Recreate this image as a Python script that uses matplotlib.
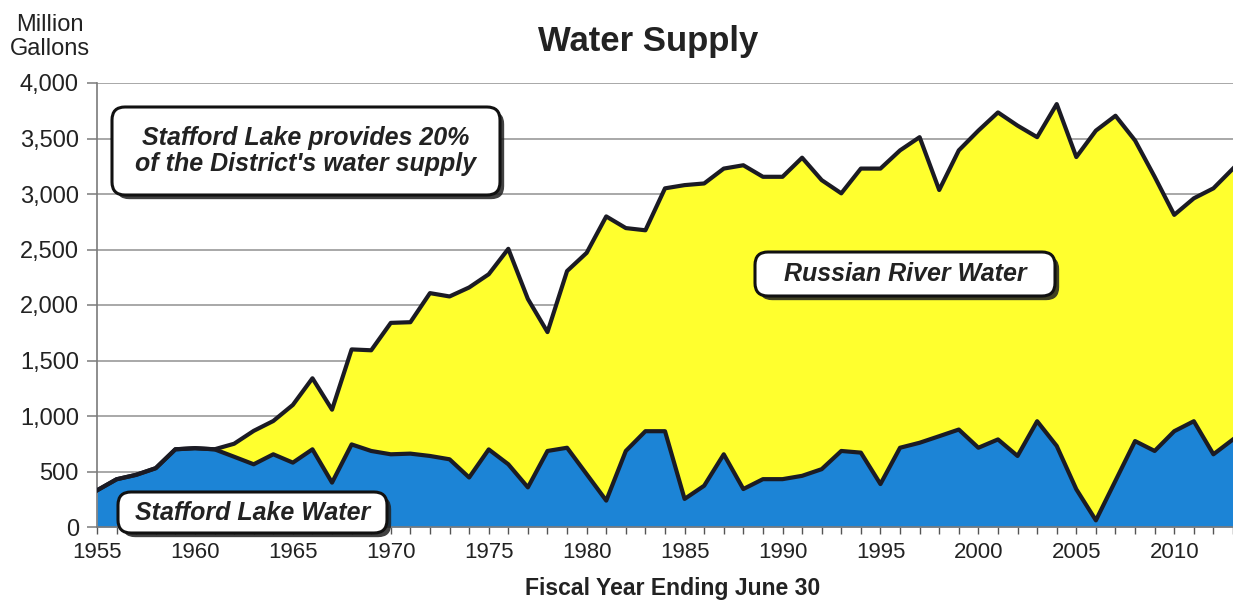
import matplotlib
matplotlib.use("Agg")
import matplotlib.pyplot as plt
from matplotlib.patches import FancyBboxPatch
from matplotlib.transforms import IdentityTransform
from matplotlib.ticker import MultipleLocator
import matplotlib.patheffects as pe

plt.rcParams['font.family'] = ['Liberation Sans', 'DejaVu Sans']

# ---------------- data ----------------
years = list(range(1955, 2014))

stafford_lake = [330, 430, 470, 530, 700, 710, 700, 633, 565, 655,
                 580, 700, 400, 744, 685, 655, 661, 640, 610, 446,
                 699, 565, 357, 685, 714, 476, 238, 685, 863, 863,
                 253, 372, 655, 342, 431, 431, 461, 521, 685, 670,
                 387, 714, 759, 818, 878, 714, 789, 640, 953, 730,
                 340, 60, 417, 774, 685, 863, 953, 655, 789]

total_supply = [330, 430, 470, 530, 700, 710, 700, 750, 866, 955,
                1100, 1340, 1057, 1600, 1592, 1839, 1845, 2107, 2077, 2158,
                2277, 2506, 2054, 1756, 2306, 2470, 2798, 2693, 2673, 3051,
                3080, 3095, 3229, 3259, 3155, 3155, 3327, 3125, 3006, 3229,
                3229, 3393, 3512, 3036, 3393, 3571, 3735, 3616, 3512, 3810,
                3333, 3571, 3705, 3482, 3155, 2812, 2961, 3051, 3229]

ytick_values = [0, 500, 1000, 1500, 2000, 2500, 3000, 3500, 4000]
ytick_labels = ["0", "500", "1,000", "1,500", "2,000", "2,500", "3,000", "3,500", "4,000"]
xtick_years = [1955, 1960, 1965, 1970, 1975, 1980, 1985, 1990, 1995, 2000, 2005, 2010]

title = "Water Supply"
y_title = "Million\nGallons"
x_title = "Fiscal Year Ending June 30"
note_share = "Stafford Lake provides 20%\nof the District's water supply"
label_russian = "Russian River Water"
label_stafford = "Stafford Lake Water"

# ---------------- style ----------------
W, H = 1233, 603
BLUE = "#1C84D6"
YELLOW = "#FFFF2E"
EDGE = "#1b1b24"
GRID = "#9a9a9a"
TXT = "#222222"

fig = plt.figure(figsize=(W / 100, H / 100), dpi=100)
fig.patch.set_facecolor("white")
ax = fig.add_axes([97 / W, 1 - 527 / H, 1136 / W, 444 / H])

ax.fill_between(years, 0, stafford_lake, color=BLUE, lw=0, zorder=2)
ax.fill_between(years, stafford_lake, total_supply, color=YELLOW, lw=0, zorder=2)
ax.plot(years, total_supply, color=EDGE, lw=3.0, zorder=3, solid_joinstyle="round")
ax.plot(years, stafford_lake, color=EDGE, lw=3.0, zorder=3, solid_joinstyle="round")

ax.set_xlim(1955, 2013)
ax.set_ylim(0, 4000)
ax.set_yticks(ytick_values)
ax.set_yticklabels(ytick_labels)
ax.set_xticks(xtick_years)
ax.set_xticklabels([str(y) for y in xtick_years])
ax.xaxis.set_minor_locator(MultipleLocator(1))

ax.yaxis.grid(True, color=GRID, lw=1.2, zorder=0)
ax.set_axisbelow(True)
for s in ("top", "right"):
    ax.spines[s].set_visible(False)
for s in ("left", "bottom"):
    ax.spines[s].set_color("#7a7a7a")
    ax.spines[s].set_linewidth(1.2)

ax.tick_params(axis="y", length=7, width=1.1, color="#7a7a7a", pad=6,
               labelsize=17, labelcolor=TXT)
ax.tick_params(axis="x", which="both", length=5, width=1.0, color="#555555",
               direction="out", pad=6, labelsize=16, labelcolor=TXT)

# titles
fig.text(648 / W, 1 - 41 / H, title, ha="center", va="center",
         fontsize=25, fontweight="bold", color=TXT)
fig.text(50 / W, 1 - 37 / H, y_title, ha="center", va="center",
         fontsize=17, color=TXT, linespacing=1.15)
fig.text(673 / W, 1 - 588 / H, x_title, ha="center", va="center",
         fontsize=16.6, fontweight="bold", color=TXT)


def boxed(text, x0, y0, x1, y1):
    """Rounded white box with a drop shadow, in pixel coordinates (top-left origin)."""
    box = FancyBboxPatch((x0, H - y1), x1 - x0, y1 - y0,
                         boxstyle="round,pad=0,rounding_size=13",
                         transform=IdentityTransform(), fc="white", ec="#111111",
                         lw=2.2, zorder=10)
    box.set_path_effects([pe.SimplePatchShadow(offset=(3, -3), shadow_rgbFace="#202020",
                                               alpha=0.85), pe.Normal()])
    fig.add_artist(box)
    fig.text((x0 + x1) / 2 / W, 1 - (y0 + y1) / 2 / H, text, ha="center", va="center",
             fontsize=18, fontweight="bold", fontstyle="italic", color=TXT,
             linespacing=1.15, zorder=11)


boxed(note_share, 112, 107, 500, 195)
boxed(label_russian, 755, 252, 1055, 296)
boxed(label_stafford, 118, 492, 387, 533)

fig.savefig("out.png", dpi=100, facecolor="white")
